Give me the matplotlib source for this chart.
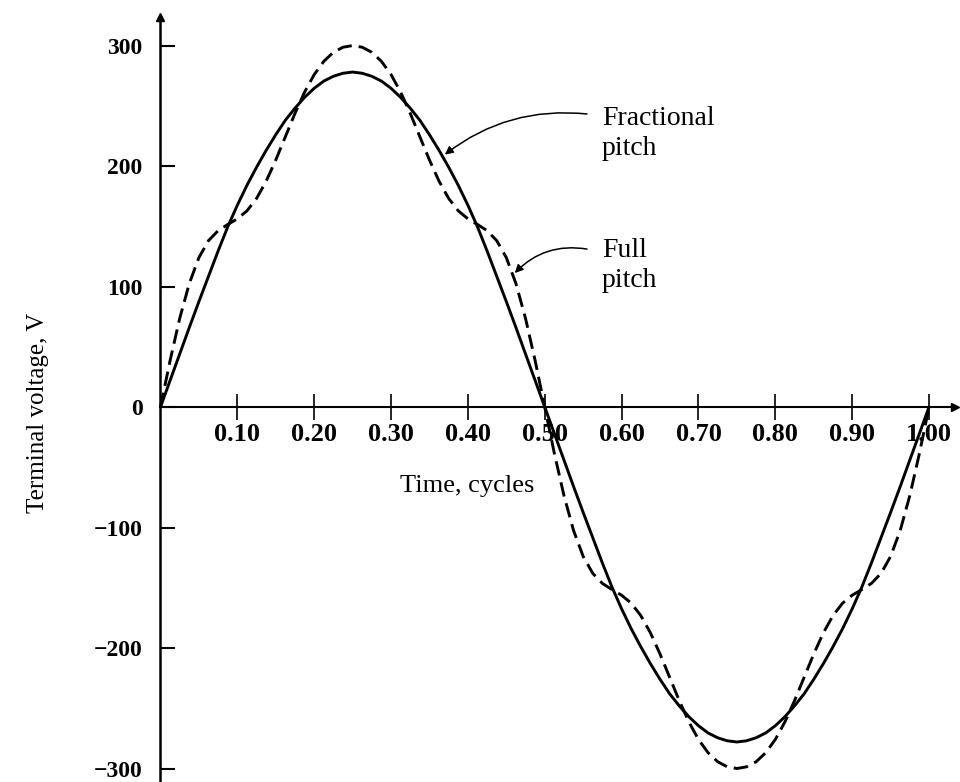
import numpy as np
import matplotlib
matplotlib.use("Agg")
import matplotlib.pyplot as plt

# ---------------- data ----------------
time_cycles = np.linspace(0.0, 1.0, 81)   # sample instants, 0.0125 cycle apart

fractional_pitch = [
    0, 22, 44, 66, 87.5, 108.5, 129.5, 149.5, 167.5, 184, 199, 213, 226, 238, 248, 257, 264.5, 270.5, 274.5, 277,
    278,
    277, 274.5, 270.5, 264.5, 257, 248, 238, 226, 213, 199, 184, 167.5, 149.5, 129.5, 108.5, 87.5, 66, 44, 22,
    0,
    -22, -44, -66, -87.5, -108.5, -129.5, -149.5, -167.5, -184, -199, -213, -226, -238, -248, -257, -264.5, -270.5, -274.5, -277,
    -278,
    -277, -274.5, -270.5, -264.5, -257, -248, -238, -226, -213, -199, -184, -167.5, -149.5, -129.5, -108.5, -87.5, -66, -44, -22,
    0,
]

full_pitch = [
    0, 38.5, 73.5, 102.5, 124.0, 138.1, 146.4, 151.5, 156.2, 162.8, 173.1, 187.4, 205.0, 224.3, 243.7, 261.3, 275.9, 286.9, 294.4, 298.6,
    300.0,
    298.6, 294.4, 286.9, 275.9, 261.3, 243.7, 224.3, 205.0, 187.4, 173.1, 162.8, 156.2, 151.5, 146.4, 138.1, 124.0, 102.5, 73.5, 38.5,
    0,
    -38.5, -73.5, -102.5, -124.0, -138.1, -146.4, -151.5, -156.2, -162.8, -173.1, -187.4, -205.0, -224.3, -243.7, -261.3, -275.9, -286.9, -294.4, -298.6,
    -300.0,
    -298.6, -294.4, -286.9, -275.9, -261.3, -243.7, -224.3, -205.0, -187.4, -173.1, -162.8, -156.2, -151.5, -146.4, -138.1, -124.0, -102.5, -73.5, -38.5,
    0,
]

x_ticks = [0.10, 0.20, 0.30, 0.40, 0.50, 0.60, 0.70, 0.80, 0.90, 1.00]
x_tick_labels = ["0.10", "0.20", "0.30", "0.40", "0.50", "0.60", "0.70", "0.80", "0.90", "1.00"]
y_ticks = [-300, -200, -100, 0, 100, 200, 300]
y_tick_labels = ["\u2212300", "\u2212200", "\u2212100", "0", "100", "200", "300"]

# ---------------- figure ----------------
plt.rcParams["font.family"] = ["Liberation Serif", "DejaVu Serif"]
fig = plt.figure(figsize=(9.6, 7.82), dpi=100)
ax = fig.add_axes([0, 0, 1, 1])
ax.patch.set_alpha(0)

ax.set_xlim(-0.2088, 1.0403)
ax.set_ylim(-311.2, 337.8)

ax.plot(time_cycles, fractional_pitch, color="black", lw=2.1, solid_capstyle="round")
ax.plot(time_cycles, full_pitch, color="black", lw=2.1, linestyle=(0, (5.0, 2.4)))

# axes through the origin
for s in ("top", "right"):
    ax.spines[s].set_visible(False)
ax.spines["left"].set_position(("data", 0))
ax.spines["bottom"].set_position(("data", 0))
ax.spines["left"].set_bounds(-311.2, 323.7)
ax.spines["bottom"].set_bounds(0, 1.034)
ax.spines["left"].set_linewidth(1.8)
ax.spines["bottom"].set_linewidth(1.5)
ax.plot([0], [323.7], marker="^", ms=6, color="black", clip_on=False)
ax.plot([1.034], [0], marker=">", ms=6, color="black", clip_on=False)

ax.set_xticks(x_ticks)
ax.set_xticklabels(x_tick_labels, fontweight="bold")
ax.set_yticks(y_ticks)
ax.set_yticklabels(y_tick_labels, fontweight="bold")
ax.tick_params(axis="x", direction="inout", length=18.7, width=1.2, pad=2,
               labelsize=19)
ax.tick_params(axis="y", direction="in", length=10.8, width=1.5, pad=13,
               labelsize=17)

ax.text(0.3995, -70.5, "Time, cycles", ha="center", va="baseline", fontsize=19)
fig.text(38 / 960, 1 - 413 / 782, "Terminal voltage, V", rotation=90,
         ha="center", va="center", fontsize=18)

# labels with arrows
ax.text(0.5745, 234.0, "Fractional", ha="left", va="baseline", fontsize=20)
ax.text(0.5745, 209.1, "pitch", ha="left", va="baseline", fontsize=20)
ax.text(0.5745, 124.5, "Full", ha="left", va="baseline", fontsize=20)
ax.text(0.5745, 99.6, "pitch", ha="left", va="baseline", fontsize=20)

ax.annotate("", xy=(0.370, 209.5), xytext=(0.555, 243.2),
            arrowprops=dict(arrowstyle="-|>", color="black", lw=1.1,
                            mutation_scale=12, shrinkA=0, shrinkB=0,
                            connectionstyle="arc3,rad=0.2"))
ax.annotate("", xy=(0.461, 111.2), xytext=(0.555, 131.1),
            arrowprops=dict(arrowstyle="-|>", color="black", lw=1.1,
                            mutation_scale=12, shrinkA=0, shrinkB=0,
                            connectionstyle="arc3,rad=0.26"))

fig.savefig("out.png", dpi=100)
